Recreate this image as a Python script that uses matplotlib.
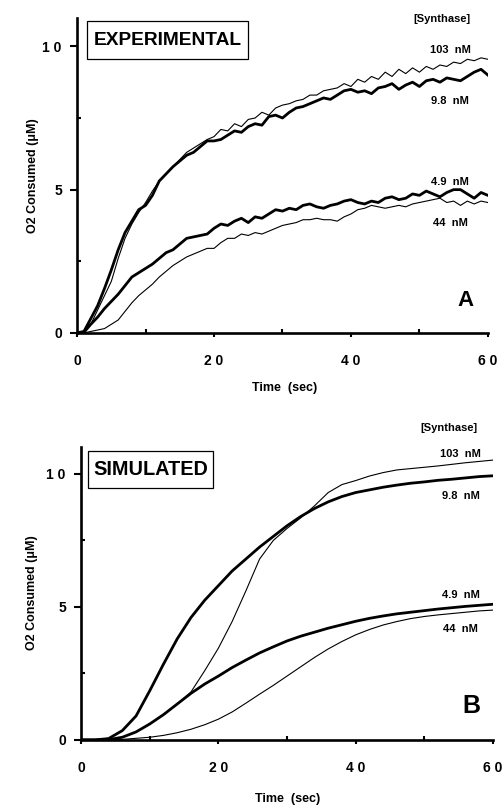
import numpy as np
import matplotlib
matplotlib.use("Agg")
import matplotlib.pyplot as plt
from matplotlib.ticker import MultipleLocator
from matplotlib.patches import Rectangle

plt.rcParams['font.family'] = ['Liberation Sans', 'DejaVu Sans']
plt.rcParams['font.weight'] = 'bold'

# experimental traces, one value per second (0..60 s)
t_exp = np.arange(0, 61)
exp_103 = [0, 0.05, 0.3, 0.8, 1.3, 1.8, 2.6, 3.3, 3.8, 4.2,
           4.55, 4.95, 5.3, 5.55, 5.8, 6.05, 6.3, 6.45, 6.6, 6.75,
           6.85, 7.1, 7.05, 7.3, 7.2, 7.45, 7.5, 7.7, 7.6, 7.85,
           7.95, 8.0, 8.1, 8.15, 8.3, 8.3, 8.45, 8.5, 8.55, 8.7,
           8.6, 8.85, 8.75, 8.95, 8.85, 9.1, 8.95, 9.2, 9.05, 9.25,
           9.1, 9.3, 9.2, 9.35, 9.3, 9.45, 9.4, 9.55, 9.5, 9.6, 9.55]
exp_98 = [0, 0.05, 0.5, 0.95, 1.55, 2.2, 2.9, 3.5, 3.9, 4.3,
          4.45, 4.8, 5.3, 5.55, 5.8, 6.0, 6.2, 6.3, 6.5, 6.7,
          6.7, 6.75, 6.9, 7.05, 7.0, 7.2, 7.3, 7.25, 7.55, 7.6,
          7.5, 7.7, 7.85, 7.9, 8.0, 8.1, 8.2, 8.15, 8.3, 8.45,
          8.5, 8.4, 8.45, 8.35, 8.55, 8.6, 8.7, 8.5, 8.65, 8.75,
          8.6, 8.8, 8.85, 8.75, 8.9, 8.85, 8.8, 8.95, 9.1, 9.2, 9.0]
exp_49 = [0, 0.02, 0.3, 0.55, 0.85, 1.1, 1.35, 1.65, 1.95, 2.1,
          2.25, 2.4, 2.6, 2.8, 2.9, 3.1, 3.3, 3.35, 3.4, 3.45,
          3.65, 3.8, 3.75, 3.9, 4.0, 3.85, 4.05, 4.0, 4.15, 4.3,
          4.25, 4.35, 4.3, 4.45, 4.5, 4.4, 4.35, 4.45, 4.5, 4.6,
          4.65, 4.55, 4.5, 4.6, 4.55, 4.7, 4.75, 4.65, 4.7, 4.85,
          4.8, 4.95, 4.85, 4.75, 4.9, 5.0, 5.0, 4.85, 4.7, 4.9, 4.8]
exp_44 = [0, 0.0, 0.05, 0.1, 0.15, 0.3, 0.45, 0.75, 1.05, 1.3,
          1.5, 1.7, 1.95, 2.15, 2.35, 2.5, 2.65, 2.75, 2.85, 2.95,
          2.95, 3.15, 3.3, 3.3, 3.45, 3.4, 3.5, 3.45, 3.55, 3.65,
          3.75, 3.8, 3.85, 3.95, 3.95, 4.0, 3.95, 3.95, 3.9, 4.05,
          4.15, 4.3, 4.35, 4.45, 4.4, 4.35, 4.4, 4.45, 4.4, 4.5,
          4.55, 4.6, 4.65, 4.7, 4.55, 4.6, 4.45, 4.6, 4.5, 4.6, 4.55]

# simulated traces, every 2 s
t_sim = np.arange(0, 61, 2)
sim_103 = [0, 0, 0.01, 0.1, 0.3, 0.6, 0.95, 1.35, 1.8, 2.6,
           3.45, 4.45, 5.6, 6.8, 7.5, 7.95, 8.35, 8.8, 9.3, 9.6,
           9.75, 9.92, 10.05, 10.15, 10.2, 10.25, 10.3, 10.36, 10.42, 10.47, 10.52]
sim_98 = [0, 0, 0.05, 0.35, 0.9, 1.85, 2.85, 3.8, 4.6, 5.25,
          5.8, 6.35, 6.8, 7.25, 7.65, 8.05, 8.4, 8.7, 8.95, 9.15,
          9.3, 9.4, 9.5, 9.58, 9.65, 9.7, 9.76, 9.8, 9.85, 9.9, 9.93]
sim_49 = [0, 0, 0.01, 0.1, 0.3, 0.6, 0.95, 1.35, 1.75, 2.1,
          2.4, 2.72, 3.0, 3.27, 3.5, 3.72, 3.9, 4.05, 4.2, 4.33,
          4.46, 4.57, 4.66, 4.74, 4.8, 4.86, 4.92, 4.97, 5.02, 5.06, 5.1]
sim_44 = [0, 0, 0, 0.02, 0.06, 0.1, 0.17, 0.27, 0.4, 0.57,
          0.78, 1.05, 1.38, 1.72, 2.05, 2.4, 2.75, 3.1, 3.42, 3.7,
          3.95, 4.15, 4.32, 4.45, 4.56, 4.64, 4.7, 4.75, 4.8, 4.85, 4.88]

conc_labels = ["103  nM", "9.8  nM", "4.9  nM", "44  nM"]
x_ticks = [0, 20, 40, 60]
x_ticklabels = ["0", "2 0", "4 0", "6 0"]
y_ticks = [0, 5, 10]
y_ticklabels = ["0", "5", "1 0"]

fig = plt.figure(figsize=(5.04, 8.06), dpi=100)
ax1 = fig.add_axes([0.153, 0.587, 0.815, 0.391])
ax2 = fig.add_axes([0.161, 0.082, 0.817, 0.363])


def style_axes(ax):
    ax.set_xlim(0, 60)
    ax.set_ylim(0, 11)
    for s in ['top', 'right']:
        ax.spines[s].set_visible(False)
    for s in ['left', 'bottom']:
        ax.spines[s].set_linewidth(1.9)
    ax.set_xticks(x_ticks)
    ax.set_xticklabels(x_ticklabels)
    ax.set_yticks(y_ticks)
    ax.set_yticklabels(y_ticklabels)
    ax.xaxis.set_minor_locator(MultipleLocator(10))
    ax.yaxis.set_minor_locator(MultipleLocator(2.5))
    ax.tick_params(axis='x', which='major', direction='out', length=3, width=1.5,
                   pad=12, labelsize=10)
    ax.tick_params(axis='y', which='major', direction='out', length=5, width=1.5,
                   pad=6, labelsize=10)
    ax.tick_params(which='minor', direction='in', length=3, width=1.5)
    ax.set_xlabel("Time  (sec)", fontsize=9, fontweight='bold')
    ax.set_ylabel("O2 Consumed (\u03bcM)", fontsize=9, fontweight='bold')


def title_box(ax, x0, x1, y0, y1, text, size):
    ax.add_patch(Rectangle((x0, y0), x1 - x0, y1 - y0, fc='white', ec='black',
                           lw=0.9, zorder=3))
    ax.text((x0 + x1) / 2, (y0 + y1) / 2, text, fontsize=size, ha='center',
            va='center', zorder=4)


style_axes(ax1)
ax1.plot(t_exp, exp_103, color='black', lw=0.8)
ax1.plot(t_exp, exp_98, color='black', lw=2.0)
ax1.plot(t_exp, exp_49, color='black', lw=2.0)
ax1.plot(t_exp, exp_44, color='black', lw=0.8)
ax1.yaxis.set_label_coords(-0.092, 0.5)
ax1.xaxis.set_label_coords(0.506, -0.156)
ax1.text(53.3, 10.94, "[Synthase]", fontsize=8, ha='center', va='center', clip_on=False)
for lab, yy in zip(conc_labels, [9.86, 8.08, 5.28, 3.85]):
    ax1.text(54.5, yy, lab, fontsize=8, ha='center', va='center')
ax1.text(56.8, 1.12, "A", fontsize=16, ha='center', va='center')
title_box(ax1, 1.46, 24.96, 9.55, 10.87, "EXPERIMENTAL", 13.8)

style_axes(ax2)
ax2.plot(t_sim, sim_103, color='black', lw=0.8)
ax2.plot(t_sim, sim_98, color='black', lw=2.0)
ax2.plot(t_sim, sim_49, color='black', lw=2.0)
ax2.plot(t_sim, sim_44, color='black', lw=0.8)
ax2.yaxis.set_label_coords(-0.105, 0.505)
ax2.xaxis.set_label_coords(0.502, -0.181)
ax2.text(53.6, 11.72, "[Synthase]", fontsize=8, ha='center', va='center', clip_on=False)
for lab, yy in zip(conc_labels, [10.75, 9.18, 5.43, 4.16]):
    ax2.text(55.3, yy, lab, fontsize=8, ha='center', va='center')
ax2.text(56.8, 1.27, "B", fontsize=18, ha='center', va='center')
title_box(ax2, 1.02, 19.22, 9.48, 10.86, "SIMULATED", 14.3)

fig.savefig("out.png", dpi=100)
